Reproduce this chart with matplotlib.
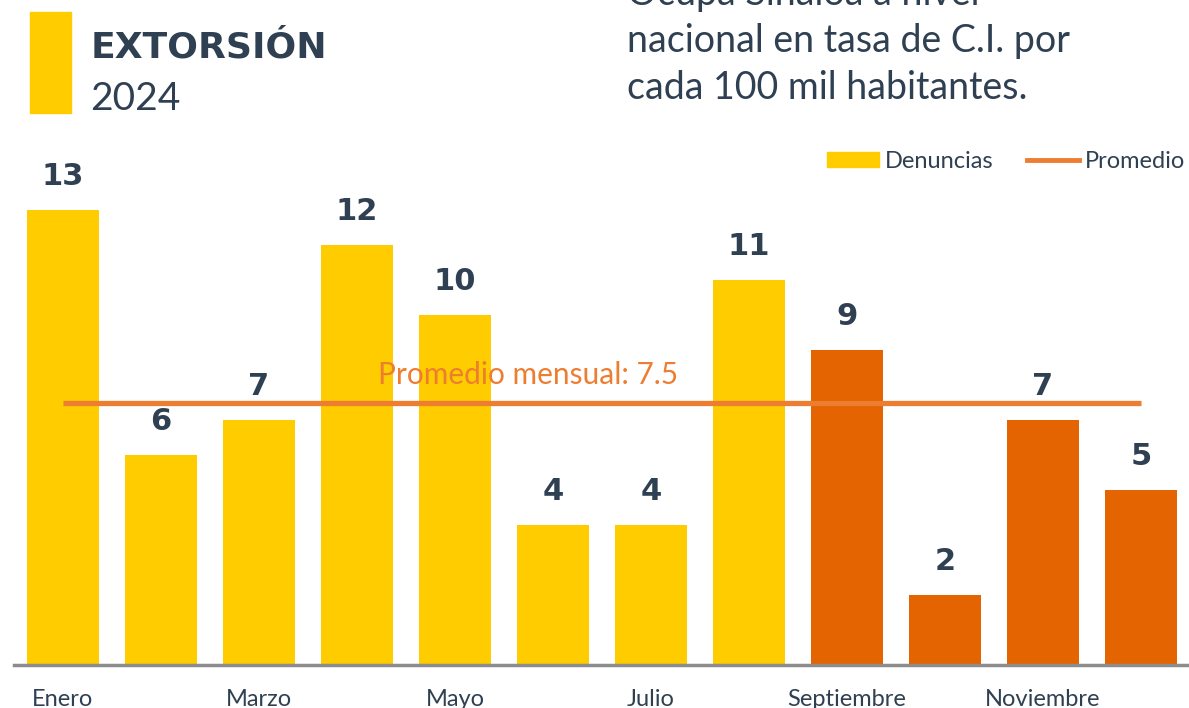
import matplotlib.pyplot as plt
from matplotlib.patches import Rectangle, Patch
from matplotlib.lines import Line2D

# datos
meses = ['Enero', 'Febrero', 'Marzo', 'Abril', 'Mayo', 'Junio', 'Julio',
         'Agosto', 'Septiembre', 'Octubre', 'Noviembre', 'Diciembre']
denuncias = [13, 6, 7, 12, 10, 4, 4, 11, 9, 2, 7, 5]
promedio = 7.5
texto_derecha = ['Ocupa Sinaloa a nivel', 'nacional en tasa de C.I. por',
                 'cada 100 mil habitantes.']

amarillo = '#FFCC00'
naranja = '#E36400'
naranja_linea = '#ED7D31'
oscuro = '#2F4052'
colores = [amarillo] * 8 + [naranja] * 4

W, H = 1189, 708
fig = plt.figure(figsize=(W / 100, H / 100), dpi=100)
ax = fig.add_axes([14 / W, (H - 665) / H, 1176 / W, 525 / H])

x = list(range(len(meses)))
ax.bar(x, denuncias, width=0.73, color=colores, zorder=2)
for xi, v in zip(x, denuncias):
    ax.text(xi, v + 0.95, str(v), ha='center', va='center', fontsize=22,
            fontweight='bold', color=oscuro, family='DejaVu Sans')

ax.hlines(promedio, 0, len(meses) - 1, color=naranja_linea, lw=3.8, zorder=3)
ax.text(3.21, promedio + 0.52, f'Promedio mensual: {promedio}', color=naranja_linea,
        fontsize=21.5, family='Lato', va='baseline', ha='left', zorder=4)

ax.set_xlim(-0.5, 11.5)
ax.set_ylim(0, 15)
ax.set_xticks(x[::2])
ax.set_xticklabels(meses[::2], fontsize=17, color=oscuro, family='Lato')
ax.tick_params(axis='x', length=0, pad=17)
ax.set_yticks([])
for s in ['top', 'left', 'right']:
    ax.spines[s].set_visible(False)
ax.spines['bottom'].set_color('#8C8C8C')
ax.spines['bottom'].set_linewidth(2.5)

# leyenda
handles = [Patch(color=amarillo, label='Denuncias'),
           Line2D([], [], color=naranja_linea, lw=3.5, label='Promedio')]
fig.legend(handles=handles, loc='center left', bbox_to_anchor=(806 / W, 1 - 161 / H),
           ncol=2, frameon=False, handlelength=2.2, handleheight=0.6,
           columnspacing=1.4, handletextpad=0.25, labelcolor=oscuro,
           prop={'family': 'Lato', 'size': 17})

# encabezado
fig.add_artist(Rectangle((30 / W, (H - 113) / H), 41 / W, 101 / H,
                         transform=fig.transFigure, color=amarillo))
fig.text(91 / W, 1 - 58 / H, 'EXTORSIÓN', fontsize=26, fontweight='heavy',
         color=oscuro, va='baseline', family='DejaVu Sans')
fig.text(90 / W, 1 - 110 / H, '2024', fontsize=28, color=oscuro,
         va='baseline', family='Lato')
for i, linea in enumerate(texto_derecha):
    fig.text(627 / W, 1 - (5 + 47 * i) / H, linea, fontsize=27, color=oscuro,
             va='baseline', family='Lato')

fig.savefig('out.png', dpi=100)
